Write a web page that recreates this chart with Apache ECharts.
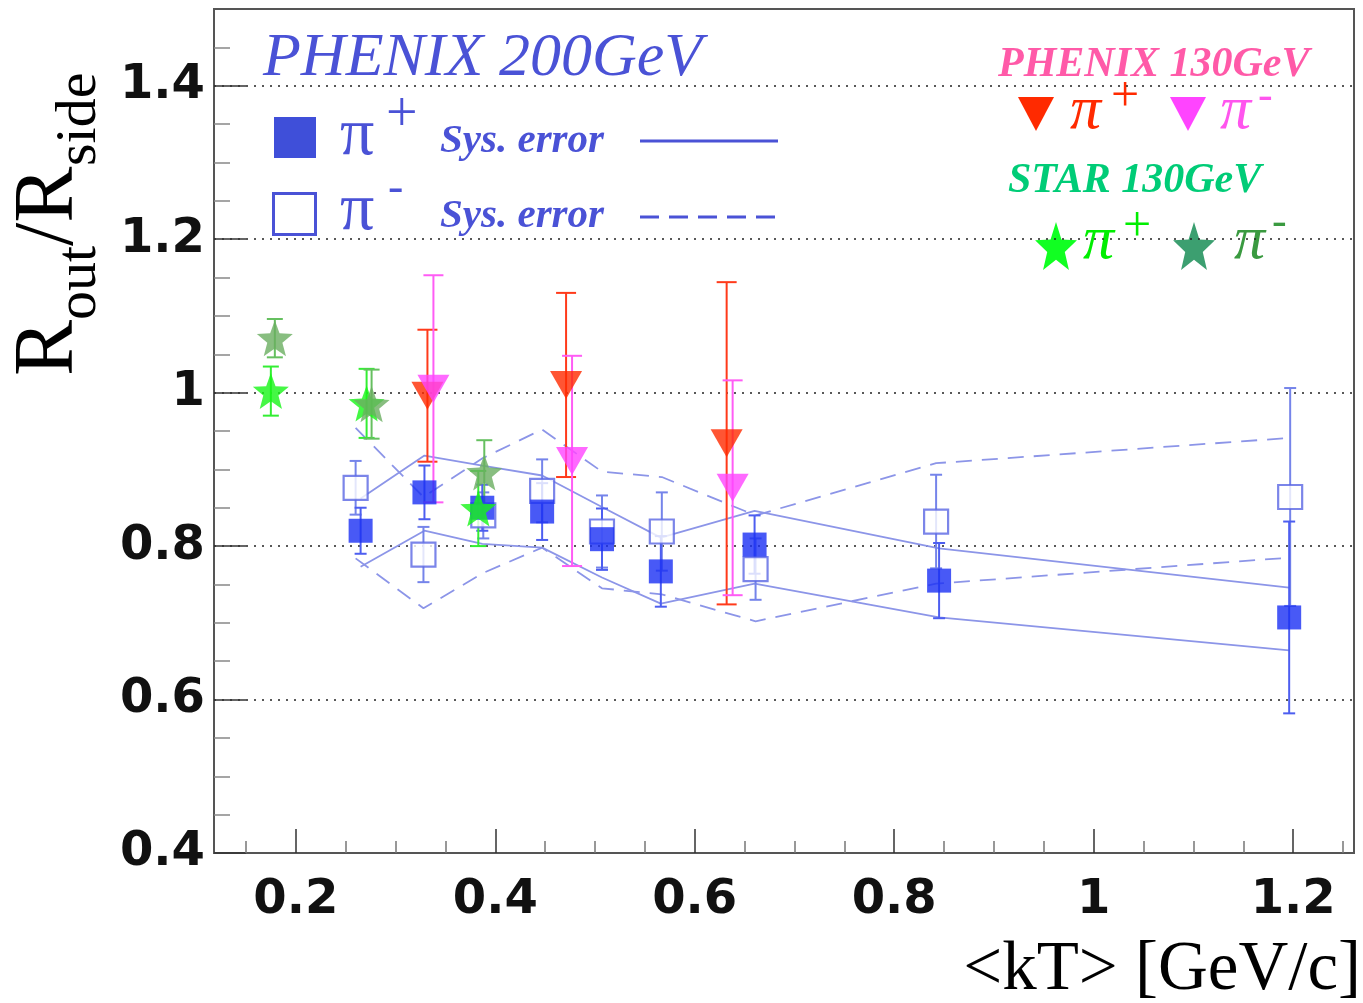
<!DOCTYPE html>
<html>
<head>
<meta charset="utf-8">
<script src="https://cdn.jsdelivr.net/npm/echarts@6/dist/echarts.min.js"></script>
<style>
  html, body { margin: 0; padding: 0; background: #fff; }
  #chart { width: 1363px; height: 1003px; }
</style>
</head>
<body>
<div id="chart"></div>
<script>
// --- PHENIX 200 GeV, pi+ (filled squares) and its systematic band (solid)
const ktPip = [0.265, 0.329, 0.387, 0.447, 0.507, 0.566, 0.660, 0.845, 1.196];
const rPip = [0.820, 0.870, 0.850, 0.845, 0.809, 0.767, 0.802, 0.755, 0.707];
const ePip = [0.030, 0.035, 0.030, 0.037, 0.040, 0.046, 0.038, 0.049, 0.125];
const sysHiPip = [0.862, 0.918, 0.905, 0.892, 0.851, 0.811, 0.846, 0.797, 0.746];
const sysLoPip = [0.773, 0.820, 0.803, 0.798, 0.759, 0.725, 0.751, 0.707, 0.664];

// --- PHENIX 200 GeV, pi- (open squares) and its systematic band (dashed)
const ktPim = [0.260, 0.328, 0.388, 0.447, 0.507, 0.567, 0.661, 0.842, 1.197];
const rPim = [0.876, 0.789, 0.840, 0.872, 0.819, 0.819, 0.770, 0.832, 0.864];
const ePim = [0.035, 0.036, 0.030, 0.041, 0.047, 0.051, 0.040, 0.061, 0.142];
const sysHiPim = [0.954, 0.864, 0.915, 0.952, 0.897, 0.890, 0.840, 0.908, 0.941];
const sysLoPim = [0.784, 0.719, 0.765, 0.798, 0.745, 0.737, 0.702, 0.751, 0.785];

// --- PHENIX 130 GeV
const ktP130Pip = [0.332, 0.471, 0.632];
const rP130Pip = [0.996, 1.010, 0.934];
const eP130Pip = [0.086, 0.120, 0.210];
const ktP130Pim = [0.338, 0.477, 0.638];
const rP130Pim = [1.005, 0.911, 0.876];
const eP130Pim = [0.148, 0.137, 0.140];

// --- STAR 130 GeV
const ktStarPip = [0.175, 0.271, 0.383];
const rStarPip = [1.002, 0.986, 0.849];
const eStarPip = [0.032, 0.045, 0.049];
const ktStarPim = [0.179, 0.276, 0.389];
const rStarPim = [1.071, 0.985, 0.896];
const eStarPim = [0.025, 0.045, 0.042];

// --- axes
const xTicks = [0.2, 0.4, 0.6, 0.8, 1, 1.2];
const xTickLabels = ["0.2", "0.4", "0.6", "0.8", "1", "1.2"];
const xMinorTicks = [0.15, 0.25, 0.3, 0.35, 0.45, 0.5, 0.55, 0.65, 0.7, 0.75, 0.85, 0.9, 0.95, 1.05, 1.1, 1.15, 1.25];
const yTicks = [0.4, 0.6, 0.8, 1, 1.2, 1.4];
const yTickLabels = ["0.4", "0.6", "0.8", "1", "1.2", "1.4"];
const yMinorTicks = [0.45, 0.5, 0.55, 0.65, 0.7, 0.75, 0.85, 0.9, 0.95, 1.05, 1.1, 1.15, 1.25, 1.3, 1.35, 1.45];

const X_MIN = 0.118, X_MAX = 1.261, Y_MIN = 0.4, Y_MAX = 1.5;
// star outline, unit coordinates
const STAR_PTS = [[0, -1], [0.247, -0.34], [0.951, -0.309], [0.399, 0.13], [0.588, 0.809],
  [0, 0.42], [-0.588, 0.809], [-0.399, 0.13], [-0.951, -0.309], [-0.247, -0.34]];
const STAR = "path://M" + STAR_PTS.map((p) => p.join(",")).join("L") + "Z";
const TICK_FONT = { fontFamily: "DejaVu Sans", fontWeight: "bold", fontSize: 48, color: "#111" };
const SERIF = '"Liberation Serif"';
const BLUE_TXT = "#4a52d6";
const SYS_BLUE = "#8c95e8";

const zip3 = (xs, ys, es) => xs.map((x, i) => [x, ys[i], es[i]]);
const zip2 = (xs, ys) => xs.map((x, i) => [x, ys[i]]);

function errorBars(cap, color, width) {
  return (params, api) => {
    const x = api.value(0), y = api.value(1), e = api.value(2);
    const top = api.coord([x, y + e]);
    const bot = api.coord([x, y - e]);
    const style = { stroke: color, lineWidth: width };
    return {
      type: "group",
      children: [
        { type: "line", shape: { x1: top[0], y1: top[1], x2: bot[0], y2: bot[1] }, style },
        { type: "line", shape: { x1: top[0] - cap, y1: top[1], x2: top[0] + cap, y2: top[1] }, style },
        { type: "line", shape: { x1: bot[0] - cap, y1: bot[1], x2: bot[0] + cap, y2: bot[1] }, style }
      ]
    };
  };
}

function errSeries(xs, ys, es, cap, color, width) {
  return { type: "custom", renderItem: errorBars(cap, color, width), data: zip3(xs, ys, es), silent: true, z: 3 };
}

function sysLine(xs, ys, dashed) {
  return {
    type: "line", data: zip2(xs, ys), symbol: "none", silent: true, z: 2,
    lineStyle: { color: SYS_BLUE, width: 1.8, type: dashed ? [16, 10] : "solid" }
  };
}

function txt(x, y, text, font, fill, align) {
  return { type: "text", x, y, silent: true,
    style: { text, font, fill, align: align || "left", verticalAlign: "middle" } };
}

function legendStar(cx, cy, w, h, fill) {
  return {
    type: "polygon", silent: true,
    shape: { points: STAR_PTS.map(([a, b]) => [cx + a * w / 2, cy + (b + 0.095) * h / 1.809]) },
    style: { fill }
  };
}

const chart = echarts.init(document.getElementById("chart"), null, { renderer: "canvas" });

chart.setOption({
  animation: false,
  backgroundColor: "#fff",
  grid: {
    left: 214, right: 9, top: 9, bottom: 150,
    show: true, borderColor: "#555", borderWidth: 2,
    containLabel: false, outerBoundsMode: "none"
  },
  xAxis: [
    {
      type: "value", min: X_MIN, max: X_MAX, position: "bottom",
      axisLine: { show: false }, splitLine: { show: false },
      axisTick: { inside: true, length: 24, customValues: xTicks, lineStyle: { color: "#333", width: 1.5 } },
      axisLabel: Object.assign({ customValues: xTicks, margin: 24,
        formatter: (v) => xTickLabels[xTicks.findIndex((t) => Math.abs(t - v) < 1e-6)] ?? "" }, TICK_FONT)
    },
    {
      type: "value", min: X_MIN, max: X_MAX, position: "bottom",
      axisLine: { show: false }, splitLine: { show: false }, axisLabel: { show: false },
      axisTick: { inside: true, length: 12, customValues: xMinorTicks, lineStyle: { color: "#777", width: 1.5 } }
    }
  ],
  yAxis: [
    {
      type: "value", min: Y_MIN, max: Y_MAX, interval: 0.2, position: "left",
      axisLine: { show: false },
      splitLine: { show: true, showMinLine: false, showMaxLine: true,
        lineStyle: { color: "#222", width: 1.7, type: [2, 6] } },
      axisTick: { inside: true, length: 32, customValues: yTicks, lineStyle: { color: "#333", width: 1.5 } },
      axisLabel: Object.assign({ customValues: yTicks, margin: 9,
        formatter: (v) => yTickLabels[yTicks.findIndex((t) => Math.abs(t - v) < 1e-6)] ?? "" }, TICK_FONT)
    },
    {
      type: "value", min: Y_MIN, max: Y_MAX, position: "left",
      axisLine: { show: false }, splitLine: { show: false }, axisLabel: { show: false },
      axisTick: { inside: true, length: 16, customValues: yMinorTicks, lineStyle: { color: "#888", width: 1.5 } }
    }
  ],
  series: [
    sysLine(ktPip, sysHiPip, false),
    sysLine(ktPip, sysLoPip, false),
    sysLine(ktPim, sysHiPim, true),
    sysLine(ktPim, sysLoPim, true),

    errSeries(ktPim, rPim, ePim, 6, "#7584ea", 2),
    errSeries(ktPip, rPip, ePip, 6, "#4d5ef0", 2),
    {
      type: "scatter", data: zip2(ktPim, rPim), symbol: "rect", symbolSize: 24, z: 4, silent: true,
      itemStyle: { color: "#fff", borderColor: "#5a66e4", borderWidth: 2.2 }
    },
    {
      type: "scatter", data: zip2(ktPip, rPip), symbol: "rect", symbolSize: 24, z: 4, silent: true,
      itemStyle: { color: "#1a30f4" }
    },

    errSeries(ktP130Pip, rP130Pip, eP130Pip, 10, "#ff3a1a", 2),
    {
      type: "scatter", data: zip2(ktP130Pip, rP130Pip), symbol: "triangle", symbolRotate: 180,
      symbolSize: [32, 28], z: 5, silent: true, itemStyle: { color: "#ff2a00" }
    },
    errSeries(ktP130Pim, rP130Pim, eP130Pim, 10, "#ff5cf5", 2),
    {
      type: "scatter", data: zip2(ktP130Pim, rP130Pim), symbol: "triangle", symbolRotate: 180,
      symbolSize: [32, 28], z: 5, silent: true, itemStyle: { color: "#ff44ff" }
    },

    errSeries(ktStarPip, rStarPip, eStarPip, 8, "#33ee33", 2),
    {
      type: "scatter", data: zip2(ktStarPip, rStarPip), symbol: STAR, symbolSize: [36, 36],
      z: 6, silent: true, itemStyle: { color: "#16f516" }
    },
    errSeries(ktStarPim, rStarPim, eStarPim, 8, "#66c060", 2),
    {
      type: "scatter", data: zip2(ktStarPim, rStarPim), symbol: STAR, symbolSize: [36, 36],
      z: 6, silent: true, itemStyle: { color: "#6aae60" }
    }
  ],
  graphic: [
    // y axis title, rotated
    {
      type: "group", x: 77, y: 376, rotation: Math.PI / 2, silent: true,
      children: [
        txt(0, -27, "R", `84px ${SERIF}`, "#000"),
        txt(56, 3, "out", `58px ${SERIF}`, "#000"),
        txt(130, -27, "/R", `84px ${SERIF}`, "#000"),
        txt(210, 3, "side", `58px ${SERIF}`, "#000")
      ]
    },
    // x axis title
    txt(1361, 971, "<kT> [GeV/c]", `69px ${SERIF}`, "#000", "right"),

    // PHENIX 200GeV legend
    txt(263, 59, "PHENIX 200GeV", `italic 62px ${SERIF}`, BLUE_TXT),
    { type: "rect", shape: { x: 274, y: 117, width: 42, height: 41 }, style: { fill: "#3f4fd9" }, silent: true },
    txt(340, 136, "π", `68px ${SERIF}`, BLUE_TXT),
    txt(386, 116, "+", `56px ${SERIF}`, BLUE_TXT),
    txt(440, 141, "Sys. error", `italic bold 41px ${SERIF}`, BLUE_TXT),
    { type: "line", shape: { x1: 640, y1: 141, x2: 778, y2: 141 }, style: { stroke: BLUE_TXT, lineWidth: 3 }, silent: true },
    { type: "rect", shape: { x: 273.5, y: 193.5, width: 42, height: 41 }, style: { fill: "#fff", stroke: BLUE_TXT, lineWidth: 3 }, silent: true },
    txt(340, 211, "π", `68px ${SERIF}`, BLUE_TXT),
    txt(388, 189, "-", `46px ${SERIF}`, BLUE_TXT),
    txt(440, 216, "Sys. error", `italic bold 41px ${SERIF}`, BLUE_TXT),
    { type: "line", shape: { x1: 640, y1: 217, x2: 776, y2: 217 }, style: { stroke: BLUE_TXT, lineWidth: 3, lineDash: [19, 10] }, silent: true },

    // PHENIX 130GeV legend
    txt(998, 65, "PHENIX 130GeV", `italic bold 42px ${SERIF}`, "#ff5aa8"),
    { type: "polygon", shape: { points: [[1018, 97], [1054, 97], [1036, 131]] }, style: { fill: "#ff2a00" }, silent: true },
    txt(1070, 112, "π", `italic 62px ${SERIF}`, "#ff2a00"),
    txt(1111, 98, "+", `50px ${SERIF}`, "#ff2a00"),
    { type: "polygon", shape: { points: [[1170, 97], [1206, 97], [1188, 131]] }, style: { fill: "#ff44ff" }, silent: true },
    txt(1220, 112, "π", `italic 62px ${SERIF}`, "#ff55ee"),
    txt(1258, 97, "-", `44px ${SERIF}`, "#ff55ee"),

    // STAR 130GeV legend
    txt(1008, 181, "STAR 130GeV", `italic bold 42px ${SERIF}`, "#00cc77"),
    legendStar(1056, 246, 44, 48, "#11ff22"),
    txt(1083, 242, "π", `italic 62px ${SERIF}`, "#00ee00"),
    txt(1123, 228, "+", `50px ${SERIF}`, "#00ee00"),
    legendStar(1194, 246, 44, 48, "#3c9f70"),
    txt(1234, 242, "π", `italic 62px ${SERIF}`, "#3a9a40"),
    txt(1272, 223, "-", `44px ${SERIF}`, "#3a9a40")
  ]
});

window.addEventListener("resize", () => chart.resize());
</script>
</body>
</html>
